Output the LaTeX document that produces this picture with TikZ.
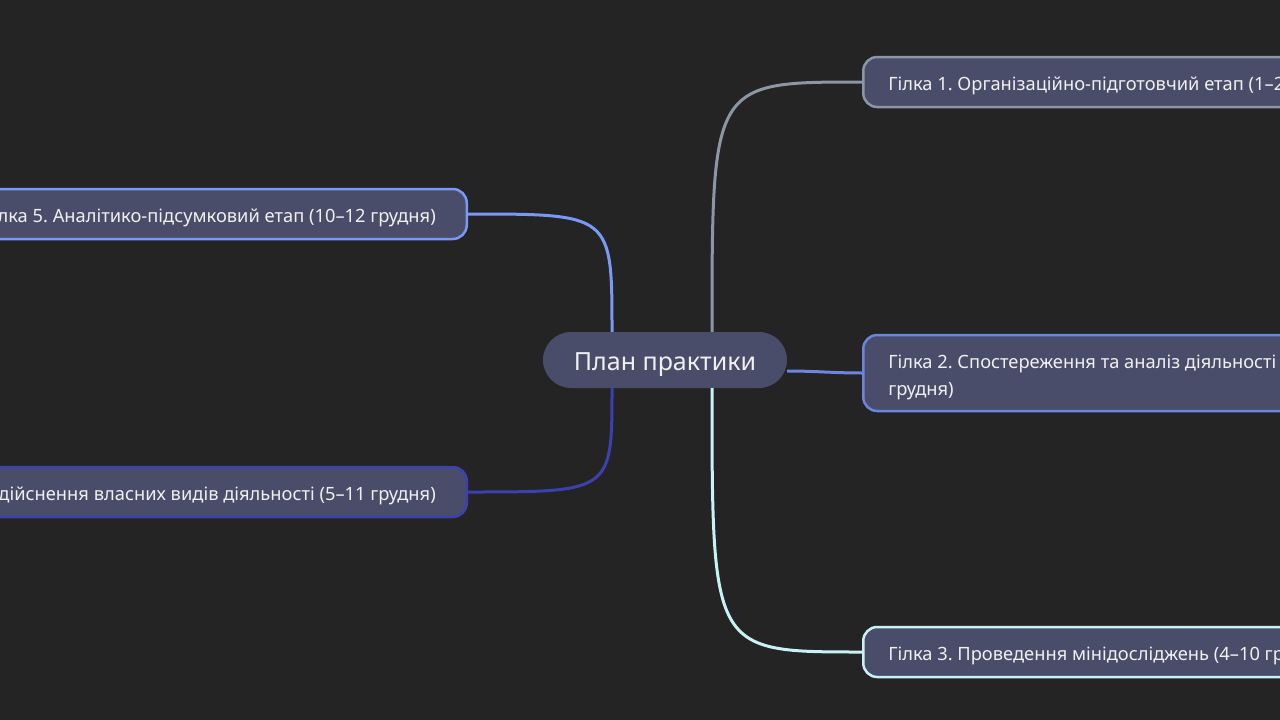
\documentclass[tikz,border=0pt]{standalone}
\usepackage{fontspec}
\setmainfont{Noto Sans}
\frenchspacing
\usetikzlibrary{calc}
\definecolor{bgc}{HTML}{242424}
\definecolor{nodefill}{HTML}{4A4D6A}
\definecolor{txt}{HTML}{F0F0F0}
\definecolor{cgray}{HTML}{8C96A4}
\definecolor{cblue}{HTML}{6C86E0}
\definecolor{ccyan}{HTML}{C8F2F4}
\definecolor{cdark}{HTML}{3C41B0}
\definecolor{clight}{HTML}{7A98F5}
\newcommand{\sunk}[2]{\raisebox{-#1}[0pt][0pt]{#2}}
\begin{document}
\begin{tikzpicture}[
x=1pt,y=-1pt,
root/.style={%
fill=nodefill,
text=txt,
rounded corners=28pt,
minimum height=56pt,
minimum width=244pt,
font=\fontsize{25pt}{29pt}\selectfont
},
branch/.style={%
draw,
line width=2.5pt,
fill=nodefill,
text=txt,
rounded corners=14pt,
minimum height=50pt,
inner xsep=25pt,
font=\fontsize{18.3pt}{27pt}\selectfont
},
link/.style={%
line width=3pt
}
]
\fill[bgc](0,0)rectangle(1280,720);
\useasboundingbox(0,0)rectangle(1280,720);
\clip(0,0)rectangle(1280,720);
%% Root
\node[root]at(665,360)(plan){\sunk{10.7pt}{План практики}};
%% Right branches
\node[branch,draw=cgray,anchor=west]at(862,82)(g1){\sunk{8.3pt}{Гілка 1. Організаційно-підготовчий етап (1–2 грудня)}};
\node[branch,draw=cblue,anchor=west,minimum height=76pt]at(862,373)(g2){\sunk{22.7pt}{\begin{tabular}[b]{@{}l@{}}Гілка 2. Спостереження та аналіз діяльності (2–8\\грудня)\end{tabular}}};
\node[branch,draw=ccyan,anchor=west]at(862,652)(g3){\sunk{8.5pt}{Гілка 3. Проведення мінідосліджень (4–10 грудня)}};
%% Left branches
\node[branch,draw=cdark,anchor=east,inner xsep=31pt]at(468,492)(g4){\sunk{8.5pt}{Гілка 4. Здійснення власних видів діяльності (5–11 грудня)}};
\node[branch,draw=clight,anchor=east,inner xsep=31pt]at(468,214)(g5){\sunk{8.5pt}{Гілка 5. Аналітико-підсумковий етап (10–12 грудня)}};
%% Start points on the root
\coordinate(r1)at([xshift=47pt]plan.north);
\coordinate(r2)at([yshift=-11pt]plan.east);
\coordinate(r3)at([xshift=47pt]plan.south);
\coordinate(r4)at([xshift=-53pt]plan.south);
\coordinate(r5)at([xshift=-53pt]plan.north);
%% Links
\draw[link,cgray](r1)..controls(r1|-g1.west)..(g1.west);
\draw[link,cblue](r2)to[out=0,in=180](g2.west);
\draw[link,ccyan](r3)..controls(r3|-g3.west)..(g3.west);
\draw[link,cdark](r4)..controls(r4|-g4.east)..(g4.east);
\draw[link,clight](r5)..controls(r5|-g5.east)..(g5.east);
\end{tikzpicture}
\end{document}
